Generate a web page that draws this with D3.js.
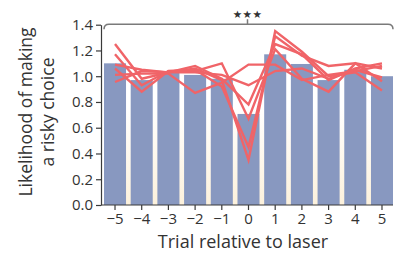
<!DOCTYPE html>
<html><head><meta charset="utf-8">
<script src="https://cdn.jsdelivr.net/npm/d3@7"></script>
<style>html,body{margin:0;padding:0;background:#fff;}svg{display:block;font-family:"Open Sans",sans-serif;}</style>
</head><body>
<script>
const trials = [-5,-4,-3,-2,-1,0,1,2,3,4,5];
const barValues = [1.10,0.97,1.04,1.01,0.98,0.707,1.17,1.095,0.97,1.05,1.00];
const lineA = [1.25,0.98,1.03,1.06,0.97,0.35,1.35,1.19,1.00,1.03,0.89];
const lineB = [1.17,0.93,1.04,1.05,0.92,0.45,1.31,1.16,1.08,1.10,1.06];
const lineC = [1.09,1.05,1.03,1.08,0.98,0.78,1.25,1.17,0.97,1.06,1.10];
const lineD = [1.06,0.88,1.04,1.04,1.10,0.67,1.21,0.98,0.88,1.10,0.96];
const lineE = [1.01,1.02,1.02,0.87,0.95,1.09,1.09,0.97,1.01,1.04,1.08];
const lineF = [0.955,1.04,1.03,1.03,1.01,0.93,1.04,1.06,0.98,1.05,0.99];
const yTicks = [0,0.2,0.4,0.6,0.8,1.0,1.2,1.4];
const xLabel = "Trial relative to laser";
const yLabel = ["Likelihood of making","a risky choice"];
const sigLabel = "★★★";

const W=403,H=255;
const svg=d3.select("body").append("svg").attr("width",W).attr("height",H);
const x=d3.scaleBand().domain(trials).range([104,393]).paddingInner(0.175).paddingOuter(0);
const y=d3.scaleLinear().domain([0,1.4]).range([205,24.7]);

const defs=svg.append("defs");
const g=defs.append("linearGradient").attr("id","bg").attr("x1",0).attr("x2",0).attr("y1",0).attr("y2",1);
g.append("stop").attr("offset","0%").attr("stop-color","#ffffff");
g.append("stop").attr("offset","45%").attr("stop-color","#ffffff");
g.append("stop").attr("offset","100%").attr("stop-color","#fcf1dc");
svg.append("rect").attr("x",104).attr("y",y(1.4)).attr("width",289).attr("height",y(0)-y(1.4)).attr("fill","url(#bg)");

svg.selectAll("rect.bar").data(trials).enter().append("rect").attr("class","bar")
  .attr("x",d=>x(d)).attr("width",x.bandwidth())
  .attr("y",(d,i)=>y(barValues[i])).attr("height",(d,i)=>y(0)-y(barValues[i]))
  .attr("fill","#8898c0");

const line=d3.line().x((d,i)=>x(trials[i])+x.bandwidth()/2).y(d=>y(d));
[lineA,lineB,lineC,lineD,lineE,lineF].forEach(s=>{
  svg.append("path").attr("d",line(s)).attr("fill","none")
    .attr("stroke","#f06468").attr("stroke-width",2.4).attr("stroke-linejoin","miter");
});

const ya=svg.append("g").attr("transform","translate(101,0)")
  .call(d3.axisLeft(y).tickValues(yTicks).tickFormat(d3.format(".1f")).tickSize(5).tickSizeOuter(0).tickPadding(3));
const xa=svg.append("g").attr("transform","translate(0,205)")
  .call(d3.axisBottom(x).tickSize(5).tickSizeOuter(0).tickPadding(3).tickFormat(d=>d<0?"\u2212"+(-d):d));
xa.select(".domain").attr("d","M101,0H393");
[ya,xa].forEach(a=>{
  a.selectAll("path,line").attr("stroke","#3a3a3a").attr("stroke-width",1.2);
  a.selectAll("text").attr("fill","#333").style("font-size","15px").style("font-family","'Open Sans',sans-serif");
});

svg.append("text").attr("x",243).attr("y",248).attr("text-anchor","middle")
  .attr("fill","#333").style("font-size","18px").text(xLabel);
const yl=svg.append("text").attr("transform","translate(0,112) rotate(-90)").attr("text-anchor","middle")
  .attr("fill","#333").style("font-size","17.5px");
yl.append("tspan").attr("x",0).attr("y",32).text(yLabel[0]);
yl.append("tspan").attr("x",0).attr("y",54).text(yLabel[1]);

const bx0=104,bx1=393,by=24.3,r=5,cx=247.5;
svg.append("path").attr("d",`M${bx0},${by+r}Q${bx0},${by} ${bx0+r},${by}H${bx1-r}Q${bx1},${by} ${bx1},${by+r}M${cx},${by}V${by-5}`)
  .attr("fill","none").attr("stroke","#7a7a7a").attr("stroke-width",1.5);
svg.append("text").attr("x",cx).attr("y",17.5).attr("text-anchor","middle").attr("fill","#333")
  .style("font-size","10.5px").style("font-family","'DejaVu Sans'").attr("letter-spacing",0.5).text(sigLabel);
</script>
</body></html>
